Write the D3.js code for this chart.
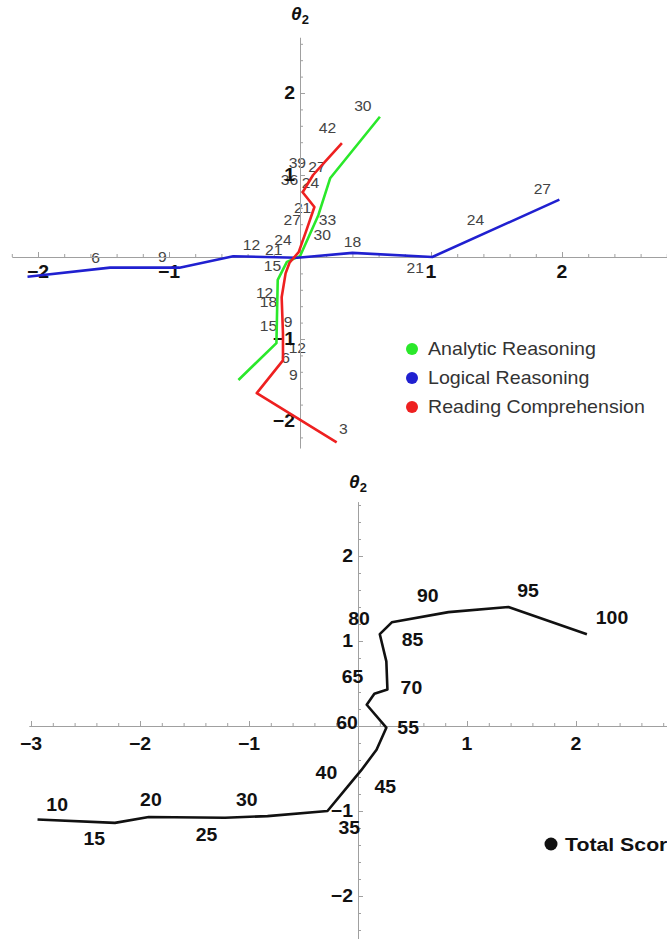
<!DOCTYPE html>
<html>
<head>
<meta charset="utf-8">
<script src="https://cdn.jsdelivr.net/npm/d3@7"></script>
<style>
  html, body { margin: 0; padding: 0; background: #fff; }
  svg { display: block; }
  text { font-family: "Liberation Sans", Arial, sans-serif; }
</style>
</head>
<body>
<svg id="chart" width="667" height="939"></svg>
<script>
// ---------------- DATA: top panel (section scores) ----------------
const seriesNames = ["Analytic Reasoning", "Logical Reasoning", "Reading Comprehension"];
const seriesColors = ["#2ae82a", "#2020d0", "#ee2020"];

const analyticT1 = [0.61, 0.23, 0.14, 0.00, -0.10, -0.17, -0.18, -0.47];
const analyticT2 = [1.71, 0.96, 0.51, 0.01, -0.06, -0.28, -1.05, -1.50];

const logicalT1 = [-2.08, -1.45, -0.92, -0.51, -0.02, 0.40, 1.01, 1.98];
const logicalT2 = [-0.24, -0.13, -0.13, 0.01, -0.01, 0.05, 0.00, 0.70];

const readingT1 = [0.32, 0.19, 0.10, 0.02, 0.11, 0.05, -0.01, -0.08, -0.11, -0.14, -0.13, -0.13, -0.33, 0.28];
const readingT2 = [1.39, 1.16, 1.00, 0.79, 0.61, 0.33, 0.06, -0.07, -0.20, -0.49, -0.93, -1.26, -1.66, -2.26];

// score labels of the top panel (text, theta1, theta2)
const topLabelText = ["30", "42", "39", "27", "36", "24", "21", "27", "33", "30", "24", "12", "21", "18", "15",
                      "12", "18", "15", "9", "12", "6", "9", "3", "6", "9", "27", "24", "21"];
const topLabelT1 = [0.48, 0.21, -0.02, 0.13, -0.08, 0.08, 0.02, -0.06, 0.21, 0.17, -0.13, -0.37, -0.20, 0.40, -0.21,
                    -0.27, -0.24, -0.24, -0.09, -0.02, -0.11, -0.05, 0.33, -1.56, -1.05, 1.85, 1.34, 0.88];
const topLabelT2 = [1.85, 1.57, 1.15, 1.10, 0.94, 0.90, 0.60, 0.45, 0.45, 0.27, 0.21, 0.15, 0.09, 0.18, -0.11,
                    -0.44, -0.55, -0.84, -0.79, -1.11, -1.23, -1.44, -2.09, -0.01, 0.00, 0.83, 0.45, -0.13];

const topTickLabels = [-2, -1, 1, 2];

// ---------------- DATA: bottom panel (total score) ----------------
const totalName = "Total Score";
const totalT1 = [-2.94, -2.23, -1.92, -1.22, -0.83, -0.28, -0.08, 0.03, 0.17, 0.26, 0.08, 0.15, 0.27, 0.26, 0.20, 0.31, 0.83, 1.38, 2.10];
const totalT2 = [-1.10, -1.14, -1.07, -1.08, -1.06, -1.00, -0.69, -0.52, -0.28, -0.02, 0.25, 0.38, 0.43, 0.76, 1.08, 1.22, 1.34, 1.40, 1.08];

const totalLabelText = ["10", "15", "20", "25", "30", "35", "40", "45", "55", "60", "65", "70", "80", "85", "90", "95", "100"];
const totalLabelT1 = [-2.76, -2.42, -1.90, -1.39, -1.02, -0.08, -0.29, 0.25, 0.46, -0.10, -0.05, 0.49, 0.01, 0.50, 0.64, 1.56, 2.33];
const totalLabelT2 = [-0.92, -1.32, -0.87, -1.28, -0.87, -1.20, -0.55, -0.71, -0.02, 0.04, 0.58, 0.45, 1.27, 1.02, 1.54, 1.59, 1.28];

const botTickLabelsX = [-3, -2, -1, 1, 2];
const botTickLabelsY = [-2, -1, 1, 2];

// ---------------- DRAWING ----------------
const svg = d3.select("#chart");
const fmt = v => (v < 0 ? "\u2212" + Math.abs(v) : String(v));
const axisColor = "#a0a0a0";
const SX = 1.08; // horizontal stretch of the source image's text

// place a text at (x, y) with horizontal stretch
function place(sel, xf, yf) {
  return sel.attr("transform", (d, i) => `translate(${xf(d, i)},${yf(d, i)}) scale(${SX},1)`);
}

function drawAxes(g, x, y, xMajor, yMajor, fontSize, xLabelOff) {
  const [x0, x1] = x.domain();
  const [y0, y1] = y.domain();
  const minorX = d3.range(Math.ceil(x0 * 5), Math.floor(x1 * 5) + 1).map(d => d / 5).filter(d => Math.abs(d) > 1e-9);
  const minorY = d3.range(Math.ceil(y1 * 5), Math.floor(y0 * 5) + 1).map(d => d / 5).filter(d => Math.abs(d) > 1e-9);

  const gx = g.append("g").attr("transform", `translate(0,${y(0)})`)
    .call(d3.axisTop(x).tickValues(minorX).tickSize(3).tickSizeOuter(0).tickFormat(""));
  gx.selectAll("path").attr("stroke", axisColor);
  gx.selectAll("line").attr("stroke", axisColor);
  gx.selectAll(".tick line").attr("y2", d => Math.abs(d - Math.round(d)) < 1e-9 ? -5 : -3);

  const gy = g.append("g").attr("transform", `translate(${x(0)},0)`)
    .call(d3.axisRight(y).tickValues(minorY).tickSize(3).tickSizeOuter(0).tickFormat(""));
  gy.selectAll("path").attr("stroke", axisColor);
  gy.selectAll("line").attr("stroke", axisColor);
  gy.selectAll(".tick line").attr("x2", d => Math.abs(d - Math.round(d)) < 1e-9 ? 5 : 3);

  place(g.append("g").selectAll("text").data(xMajor).join("text"), d => x(d), () => y(0) + xLabelOff)
    .attr("text-anchor", "middle").attr("font-weight", "bold")
    .attr("font-size", fontSize).attr("fill", "#111")
    .text(fmt);
  place(g.append("g").selectAll("text").data(yMajor).join("text"), () => x(0) - 5, d => y(d))
    .attr("dy", "0.36em")
    .attr("text-anchor", "end").attr("font-weight", "bold")
    .attr("font-size", fontSize).attr("fill", "#111")
    .text(fmt);
}

function axisTitle(g, cx, cy) {
  const t = g.append("text").attr("x", cx).attr("y", cy).attr("text-anchor", "middle")
    .attr("font-weight", "bold").attr("fill", "#111");
  t.append("tspan").attr("font-style", "italic").attr("font-size", 19).text("\u03b8");
  t.append("tspan").attr("font-size", 13).attr("dy", 4).text("2");
}

// ===== Top panel =====
const xTop = d3.scaleLinear().domain([-2.2, 2.8]).range([300 - 2.2 * 131, 300 + 2.8 * 131]);
const yTop = d3.scaleLinear().domain([2.68, -2.33]).range([257 - 2.68 * 82, 257 + 2.33 * 82]);
const gTop = svg.append("g");

place(gTop.append("g").selectAll("text").data(topLabelText).join("text"),
      (d, i) => xTop(topLabelT1[i]), (d, i) => yTop(topLabelT2[i]))
  .attr("dy", "0.36em").attr("text-anchor", "middle")
  .attr("font-size", 14.5).attr("fill", "#444").text(d => d);

drawAxes(gTop, xTop, yTop, topTickLabels, topTickLabels, 18, 21);
axisTitle(gTop, xTop(0), 20);

const topSeries = [
  { t1: analyticT1, t2: analyticT2 },
  { t1: logicalT1, t2: logicalT2 },
  { t1: readingT1, t2: readingT2 }
];
const lineTop = d3.line().x(d => xTop(d[0])).y(d => yTop(d[1]));
gTop.append("g").selectAll("path").data(topSeries).join("path")
  .attr("d", s => lineTop(d3.zip(s.t1, s.t2)))
  .attr("fill", "none")
  .attr("stroke", (s, i) => seriesColors[i])
  .attr("stroke-width", 2.6).attr("stroke-linejoin", "round");

const legTop = gTop.append("g").selectAll("g").data(seriesNames).join("g")
  .attr("transform", (d, i) => `translate(412,${349 + i * 29})`);
legTop.append("circle").attr("r", 6).attr("fill", (d, i) => seriesColors[i]);
legTop.append("text").attr("transform", "translate(16,0) scale(1.09,1)").attr("dy", "0.36em")
  .attr("font-size", 18).attr("fill", "#333").text(d => d);

// ===== Bottom panel =====
const xBot = d3.scaleLinear().domain([-3.02, 2.84]).range([358 - 3.02 * 109, 358 + 2.84 * 109]);
const yBot = d3.scaleLinear().domain([2.64, -2.5]).range([726 - 2.64 * 85, 726 + 2.5 * 85]);
const gBot = svg.append("g");

drawAxes(gBot, xBot, yBot, botTickLabelsX, botTickLabelsY, 18, 24);
axisTitle(gBot, xBot(0), 488);

const lineBot = d3.line().x(d => xBot(d[0])).y(d => yBot(d[1]));
gBot.append("path").datum(d3.zip(totalT1, totalT2))
  .attr("d", lineBot).attr("fill", "none")
  .attr("stroke", "#111").attr("stroke-width", 2.6).attr("stroke-linejoin", "round");

place(gBot.append("g").selectAll("text").data(totalLabelText).join("text"),
      (d, i) => xBot(totalLabelT1[i]), (d, i) => yBot(totalLabelT2[i]))
  .attr("dy", "0.36em").attr("text-anchor", "middle")
  .attr("font-size", 18).attr("font-weight", "bold").attr("fill", "#111").text(d => d);

const legBot = gBot.append("g").attr("transform", "translate(551,844)");
legBot.append("circle").attr("r", 6.5).attr("fill", "#111");
legBot.append("text").attr("transform", "translate(14,0) scale(1.12,1)").attr("dy", "0.36em")
  .attr("font-size", 19).attr("font-weight", "bold").attr("fill", "#111").text(totalName);
</script>
</body>
</html>
